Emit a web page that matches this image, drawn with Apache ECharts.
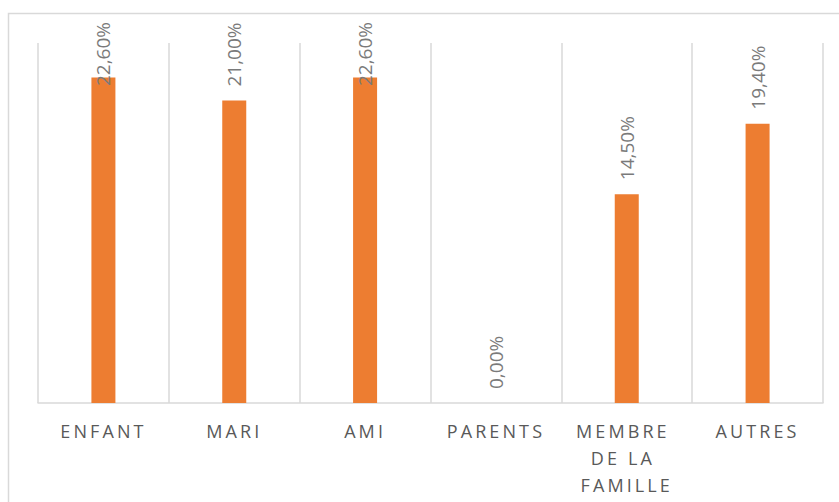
<!DOCTYPE html>
<html>
<head>
<meta charset="utf-8">
<script src="https://cdn.jsdelivr.net/npm/echarts@6/dist/echarts.min.js"></script>
<style>
  html, body { margin: 0; padding: 0; background: #ffffff; }
  #chart { width: 839px; height: 502px; }
  #chart text[fill="#595959"] { letter-spacing: 3.1px; }
</style>
</head>
<body>
<div id="chart"></div>
<script>
var categories = ['ENFANT', 'MARI', 'AMI', 'PARENTS', 'MEMBRE DE LA FAMILLE', 'AUTRES'];
var values = [22.6, 21.0, 22.6, 0.0, 14.5, 19.4];
var axisMax = 25;

var chart = echarts.init(document.getElementById('chart'), null, { renderer: 'svg' });
var FONT = '"Open Sans", "Noto Sans", sans-serif';
chart.setOption({
  animation: false,
  backgroundColor: '#ffffff',
  graphic: [{
    type: 'rect',
    shape: { x: 8.5, y: 13.5, width: 860, height: 520 },
    style: { fill: 'none', stroke: '#d9d9d9', lineWidth: 1.5 },
    silent: true, z: 0
  }],
  grid: { left: 38, right: 16, top: 43, bottom: 99 },
  xAxis: {
    type: 'category',
    data: categories,
    axisLine: { show: true, lineStyle: { color: '#d9d9d9', width: 1.5 } },
    axisTick: { show: false },
    splitLine: { show: true, lineStyle: { color: '#d9d9d9', width: 1.5 } },
    axisLabel: {
      interval: 0,
      color: '#595959',
      fontFamily: FONT,
      fontSize: 18,
      lineHeight: 27,
      margin: 14,
      width: 95,
      overflow: 'break'
    }
  },
  yAxis: { type: 'value', min: 0, max: axisMax, show: false },
  series: [{
    type: 'bar',
    data: values,
    barWidth: 24,
    itemStyle: { color: '#ED7D31' },
    label: {
      show: true,
      position: 'top',
      rotate: 90,
      align: 'left',
      verticalAlign: 'middle',
      distance: 14,
      color: '#7a7a7a',
      fontFamily: FONT,
      fontSize: 19,
      formatter: function (p) { return p.value.toFixed(2).replace('.', ',') + '%'; }
    },
    labelLayout: function (params) {
      var r = params.labelRect;
      var minTop = 22;
      if (r.y < minTop) {
        return { y: r.y + r.height + (minTop - r.y) };
      }
      return {};
    }
  }]
});
</script>
</body>
</html>
